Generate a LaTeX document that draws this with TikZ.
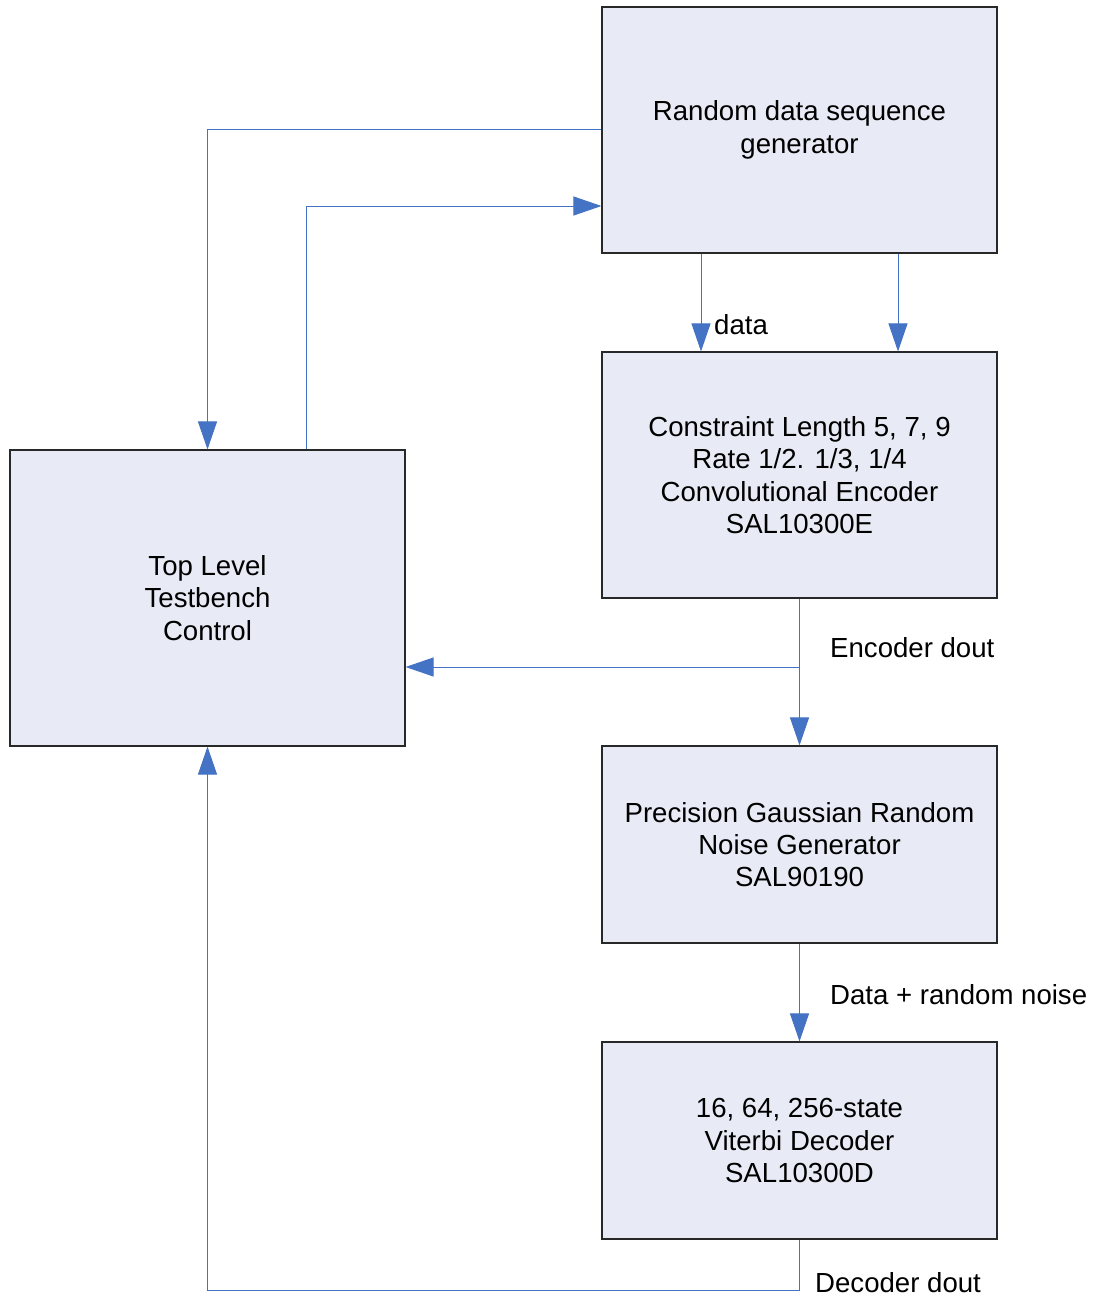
\documentclass[tikz,border=0pt]{standalone}
\usepackage{fontspec}
\setmainfont{Liberation Sans}
\usetikzlibrary{arrows.meta}
\definecolor{boxfill}{RGB}{232,235,245}
\definecolor{linkblue}{RGB}{68,114,196}
\definecolor{boxline}{RGB}{40,40,40}
\begin{document}
\begin{tikzpicture}[x=1pt,y=-1pt,
  blk/.style={draw=boxline,line width=1.1pt,fill=boxfill,minimum width=395pt,inner sep=0pt,align=center,
    font=\fontsize{27.6}{32.3}\selectfont},
  link/.style={draw=linkblue,line width=1pt,-{Triangle[length=28pt,width=19pt,fill=linkblue]}},
  lbl/.style={anchor=west,inner sep=0pt,font=\fontsize{27.6}{32.3}\selectfont}]
\useasboundingbox (0,0) rectangle (1094,1300);
\node[blk,minimum height=246pt] (rdg) at (799.5,130) {Random data sequence\\generator};
\node[blk,minimum height=246pt] (enc) at (799.5,475) {Constraint Length 5, 7, 9\\Rate 1/2. 1/3, 1/4\\Convolutional Encoder\\SAL10300E};
\node[blk,minimum height=296pt] (top) at (207.5,598) {Top Level\\Testbench\\Control};
\node[blk,minimum height=197pt] (noise) at (799.5,844.5) {Precision Gaussian Random\\Noise Generator\\SAL90190};
\node[blk,minimum height=197pt] (vit) at (799.5,1140.5) {16, 64, 256-state\\Viterbi Decoder\\SAL10300D};
% connectors
\coordinate (c1) at (207.5,130);
\draw[link] (rdg.west |- c1) -- (c1) -- (top.north -| c1);
\coordinate (c2) at (306,206);
\draw[link] (top.north -| c2) -- (c2) -- (rdg.west |- c2);
\coordinate (d1) at (701,0);
\coordinate (d2) at (898,0);
\draw[link] (rdg.south -| d1) -- (enc.north -| d1);
\draw[link] (rdg.south -| d2) -- (enc.north -| d2);
\draw[link] (enc.south) -- (noise.north);
\coordinate (br) at (799.5,667);
\draw[link] (br) -- (top.east |- br);
\draw[link] (noise.south) -- (vit.north);
\coordinate (b1) at (799.5,1290);
\coordinate (b2) at (207.5,1290);
\draw[link] (vit.south) -- (b1) -- (b2) -- (top.south);
% labels
\node[lbl] (ldata) at (714,325) {data};
\node[lbl] (lenc) at (830,648) {Encoder dout};
\node[lbl] (lnoise) at (830,995) {Data + random noise};
\node[lbl] (ldec) at (815,1283) {Decoder dout};
\end{tikzpicture}
\end{document}
